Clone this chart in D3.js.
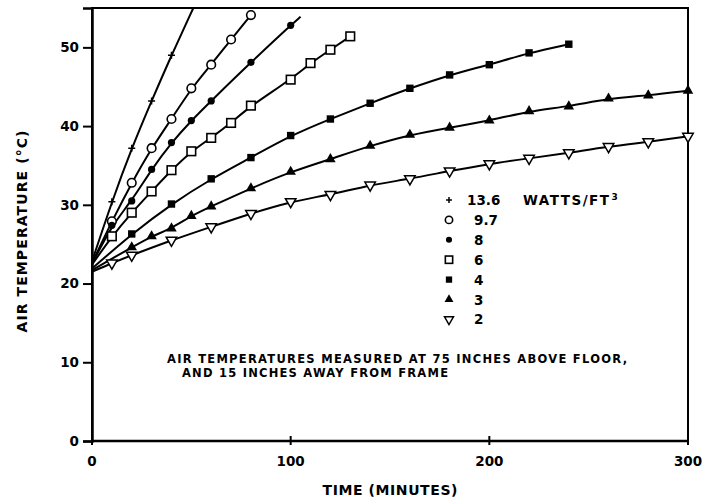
<!DOCTYPE html>
<html>
<head>
<meta charset="utf-8">
<script src="https://cdn.jsdelivr.net/npm/d3@7"></script>
<style>
  body { margin: 0; background: #fff; }
  svg { display: block; font-family: "DejaVu Sans", sans-serif; font-weight: bold; }
</style>
</head>
<body>
<svg width="714" height="498"></svg>
<script>
// Series values (time in minutes, temperature in °C)
const labels = ["13.6", "9.7", "8", "6", "4", "3", "2"];
const startTemps = [22.8, 22.6, 22.5, 22.4, 21.9, 21.7, 21.5];

const times136 = [10, 20, 30, 40];
const temps136 = [30.4, 37.2, 43.2, 49.0];
const end136 = [51, 55];

const times97 = [10, 20, 30, 40, 50, 60, 70, 80];
const temps97 = [27.9, 32.8, 37.2, 40.9, 44.8, 47.8, 51.0, 54.1];

const times8 = [10, 20, 30, 40, 50, 60, 80, 100];
const temps8 = [27.4, 30.5, 34.5, 37.9, 40.7, 43.2, 48.1, 52.8];
const end8 = [105, 53.9];

const times6 = [10, 20, 30, 40, 50, 60, 70, 80, 100, 110, 120, 130];
const temps6 = [26.0, 29.0, 31.7, 34.4, 36.8, 38.5, 40.4, 42.6, 45.9, 48.0, 49.7, 51.4];

const times4 = [20, 40, 60, 80, 100, 120, 140, 160, 180, 200, 220, 240];
const temps4 = [26.3, 30.1, 33.3, 36.0, 38.8, 40.9, 42.9, 44.8, 46.5, 47.8, 49.3, 50.4];

const times3 = [20, 30, 40, 50, 60, 80, 100, 120, 140, 160, 180, 200, 220, 240, 260, 280, 300];
const temps3 = [24.6, 26.0, 27.0, 28.6, 29.8, 32.1, 34.2, 35.8, 37.5, 38.9, 39.8, 40.7, 41.9, 42.5, 43.5, 43.9, 44.5];

const times2 = [10, 20, 40, 60, 80, 100, 120, 140, 160, 180, 200, 220, 240, 260, 280, 300];
const temps2 = [22.6, 23.6, 25.5, 27.2, 28.9, 30.4, 31.3, 32.5, 33.3, 34.3, 35.2, 35.9, 36.6, 37.4, 38.0, 38.7];

const xTicks = [0, 100, 200, 300];
const yTicks = [0, 10, 20, 30, 40, 50];

const series = [
  { label: labels[0], marker: "plus",   t: times136, v: temps136, end: end136 },
  { label: labels[1], marker: "circleOpen", t: times97, v: temps97, end: null },
  { label: labels[2], marker: "circleFill", t: times8, v: temps8, end: end8 },
  { label: labels[3], marker: "squareOpen", t: times6, v: temps6, end: null },
  { label: labels[4], marker: "squareFill", t: times4, v: temps4, end: null },
  { label: labels[5], marker: "triUp", t: times3, v: temps3, end: null },
  { label: labels[6], marker: "triDown", t: times2, v: temps2, end: null }
];
series.forEach((s, i) => { s.start = startTemps[i]; });

const svg = d3.select("svg");
const margin = { top: 8, right: 26, bottom: 57, left: 92 };
const W = 714, H = 498;

const x = d3.scaleLinear().domain([0, 300]).range([margin.left, W - margin.right]);
const y = d3.scaleLinear().domain([0, 55]).range([H - margin.bottom, margin.top]);

svg.append("clipPath").attr("id", "plotclip")
  .append("rect")
  .attr("x", x(0)).attr("y", y(55))
  .attr("width", x(300) - x(0)).attr("height", y(0) - y(55));

// frame
svg.append("rect")
  .attr("x", x(0)).attr("y", y(55))
  .attr("width", x(300) - x(0)).attr("height", y(0) - y(55))
  .attr("fill", "none").attr("stroke", "#000").attr("stroke-width", 2);

// y axis
const yAxis = svg.append("g")
  .attr("transform", `translate(${x(0)},0)`)
  .call(d3.axisLeft(y).tickValues(yTicks).tickSize(9).tickPadding(4).tickFormat(d3.format("d")));
yAxis.select(".domain").attr("stroke-width", 2.5);
yAxis.selectAll(".tick line").attr("stroke-width", 2);
yAxis.selectAll("text").attr("font-size", 13.5).attr("font-weight", "bold").attr("font-family", "DejaVu Sans");

// x axis, ticks crossing the line
const xAxis = svg.append("g").attr("transform", `translate(0,${y(0)})`);
xAxis.append("line").attr("x1", x(0)).attr("x2", x(300)).attr("stroke", "#000").attr("stroke-width", 2.5);
xAxis.selectAll(".xt").data(xTicks).enter().append("line")
  .attr("x1", d => x(d)).attr("x2", d => x(d))
  .attr("y1", -5).attr("y2", 4)
  .attr("stroke", "#000").attr("stroke-width", 2);
xAxis.selectAll(".xl").data(xTicks).enter().append("text")
  .attr("x", d => x(d)).attr("y", 25)
  .attr("text-anchor", "middle").attr("font-size", 13.5)
  .text(d => d);

// curves
const line = d3.line().x(d => x(d[0])).y(d => y(d[1])).curve(d3.curveBasis);
const plot = svg.append("g").attr("clip-path", "url(#plotclip)");

series.forEach(s => {
  const pts = [[0, s.start]].concat(s.t.map((t, i) => [t, s.v[i]]));
  if (s.end) pts.push(s.end);
  plot.append("path").datum(pts)
    .attr("d", line)
    .attr("fill", "none").attr("stroke", "#000").attr("stroke-width", 2);
});

function drawMarker(g, type, scale) {
  const k = scale || 1;
  if (type === "plus") {
    g.append("path").attr("d", `M${-3.5*k},0H${3.5*k}M0,${-3.5*k}V${3.5*k}`)
      .attr("stroke", "#000").attr("stroke-width", 1.5).attr("fill", "none");
  } else if (type === "circleOpen") {
    g.append("circle").attr("r", 4.3 * k).attr("fill", "#fff").attr("stroke", "#000").attr("stroke-width", 1.6);
  } else if (type === "circleFill") {
    g.append("circle").attr("r", 3.6 * k).attr("fill", "#000");
  } else if (type === "squareOpen") {
    g.append("rect").attr("x", -4.3 * k).attr("y", -4.3 * k).attr("width", 8.6 * k).attr("height", 8.6 * k)
      .attr("fill", "#fff").attr("stroke", "#000").attr("stroke-width", 1.6);
  } else if (type === "squareFill") {
    g.append("rect").attr("x", -3.7 * k).attr("y", -3.7 * k).attr("width", 7.4 * k).attr("height", 7.4 * k)
      .attr("fill", "#000");
  } else if (type === "triUp") {
    g.append("path").attr("d", d3.symbol(d3.symbolTriangle, 48 * k * k)).attr("fill", "#000");
  } else if (type === "triDown") {
    g.append("path").attr("d", d3.symbol(d3.symbolTriangle, 48 * k * k))
      .attr("transform", "rotate(180)")
      .attr("fill", "#fff").attr("stroke", "#000").attr("stroke-width", 1.5);
  }
}

series.forEach(s => {
  s.t.forEach((t, i) => {
    const g = svg.append("g").attr("transform", `translate(${x(t)},${y(s.v[i])})`);
    drawMarker(g, s.marker, 1);
  });
});

// legend
const legend = svg.append("g");
series.forEach((s, i) => {
  const ly = 200 + i * 19.9;
  const g = legend.append("g").attr("transform", `translate(449,${ly})`);
  drawMarker(g, s.marker, 0.85);
  legend.append("text")
    .attr("x", i === 0 ? 467 : 474).attr("y", ly + 5)
    .attr("font-size", 13.5)
    .text(s.label);
});
const units = legend.append("text").attr("x", 523).attr("y", 205).attr("font-size", 13.5);
units.append("tspan").text("WATTS/FT").attr("textLength", 86).attr("lengthAdjust", "spacing");
units.append("tspan").text("3").attr("font-size", 9).attr("dy", -5).attr("dx", 1);

// note
svg.append("text").attr("x", 167).attr("y", 363).attr("font-size", 11.5)
  .attr("textLength", 460).attr("lengthAdjust", "spacing")
  .text("AIR TEMPERATURES MEASURED AT 75 INCHES ABOVE FLOOR,");
svg.append("text").attr("x", 182).attr("y", 377).attr("font-size", 11.5)
  .attr("textLength", 266).attr("lengthAdjust", "spacing")
  .text("AND 15 INCHES AWAY FROM FRAME");

// axis titles
svg.append("text")
  .attr("transform", `translate(27,${(y(0) + y(55)) / 2 + 7}) rotate(-90)`)
  .attr("text-anchor", "middle").attr("font-size", 14)
  .attr("textLength", 202).attr("lengthAdjust", "spacing")
  .text("AIR TEMPERATURE (°C)");
svg.append("text")
  .attr("x", 390).attr("y", 495)
  .attr("text-anchor", "middle").attr("font-size", 14)
  .attr("textLength", 135).attr("lengthAdjust", "spacing")
  .text("TIME (MINUTES)");
</script>
</body>
</html>
